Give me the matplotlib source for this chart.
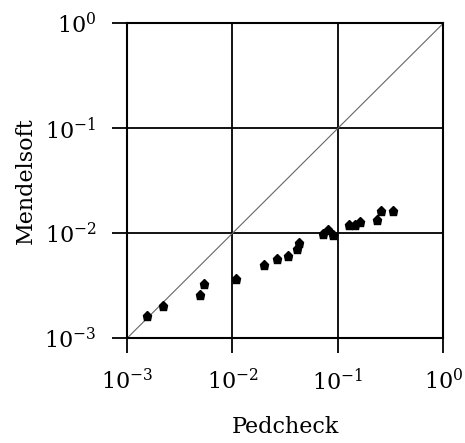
import matplotlib
matplotlib.use("Agg")
import matplotlib.pyplot as plt
from matplotlib.ticker import LogLocator, NullLocator

plt.rcParams["font.family"] = "DejaVu Serif"
plt.rcParams["mathtext.fontset"] = "dejavuserif"

# error probabilities reported by the two programs
pedcheck = [1.55e-3, 2.2e-3, 4.9e-3, 5.35e-3, 1.08e-2, 0.0199, 0.0262,
            0.0338, 0.0406, 0.043, 0.0726, 0.0800, 0.0904, 0.128, 0.145,
            0.162, 0.233, 0.256, 0.331]
mendelsoft = [1.64e-3, 2.04e-3, 2.58e-3, 3.32e-3, 3.66e-3, 4.97e-3, 5.75e-3,
              6.05e-3, 7.16e-3, 8.1e-3, 9.93e-3, 0.01066, 9.7e-3, 0.0119,
              0.0119, 0.0128, 0.0133, 0.0163, 0.0163]

fig = plt.figure(figsize=(4.65, 4.43), dpi=100)
ax = fig.add_axes([0.2731, 0.2363, 0.6802, 0.7111])

ax.set_xscale("log")
ax.set_yscale("log")
ax.set_xlim(1e-3, 1)
ax.set_ylim(1e-3, 1)

# y = x reference line
ax.plot([1e-3, 1], [1e-3, 1], color="#666666", lw=0.8, zorder=2)

ax.plot(pedcheck, mendelsoft, linestyle="none", marker="p",
        markersize=6.5, color="black", zorder=3)

for axis in (ax.xaxis, ax.yaxis):
    axis.set_major_locator(LogLocator(base=10, numticks=5))
    axis.set_minor_locator(NullLocator())

ax.grid(True, color="black", lw=1.3)
ax.set_axisbelow(True)
for s in ax.spines.values():
    s.set_linewidth(1.5)

ax.tick_params(direction="out", length=11, width=1.3, pad=11, labelsize=16)

ax.set_xlabel("Pedcheck", fontsize=16, labelpad=15)
ax.set_ylabel("Mendelsoft", fontsize=16, labelpad=5)

fig.savefig("out.png", dpi=100)
